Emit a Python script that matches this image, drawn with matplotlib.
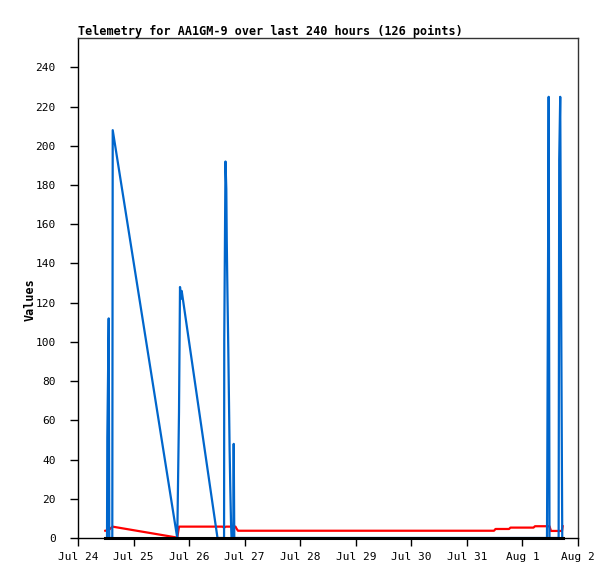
import pandas as pd
import matplotlib
matplotlib.use("Agg")
import matplotlib.pyplot as plt
import matplotlib.dates as mdates

# blue series
blue_times = ["2023-07-24 12:32", "2023-07-24 12:40", "2023-07-24 13:16", "2023-07-24 13:31",
              "2023-07-24 14:49", "2023-07-24 15:00", "2023-07-25 18:53", "2023-07-25 19:38",
              "2023-07-25 20:04", "2023-07-25 20:30", "2023-07-25 20:48", "2023-07-26 12:16",
              "2023-07-26 15:06", "2023-07-26 15:11", "2023-07-26 15:43", "2023-07-26 16:04",
              "2023-07-26 16:16", "2023-07-26 16:35", "2023-07-26 16:55", "2023-07-26 17:14",
              "2023-07-26 17:30", "2023-07-26 17:47", "2023-07-26 18:06", "2023-07-26 18:19",
              "2023-07-26 19:05", "2023-07-26 19:16", "2023-07-26 19:31", "2023-08-01 10:36",
              "2023-08-01 10:43", "2023-08-01 11:20", "2023-08-01 11:41", "2023-08-01 15:38",
              "2023-08-01 15:53", "2023-08-01 16:19", "2023-08-01 16:56", "2023-08-01 17:12"]
blue_values = [0, 51, 112, 0,
               0, 208, 0, 64,
               128, 122, 126, 0,
               0, 101, 192, 178,
               151, 123, 97, 69,
               45, 26, 8, 0,
               0, 48, 0, 0,
               32, 225, 0, 0,
               193, 225, 64, 0]

# red series
red_times = ["2023-07-24 11:47", "2023-07-24 13:24", "2023-07-24 14:54", "2023-07-25 18:53",
             "2023-07-25 19:38", "2023-07-26 14:25", "2023-07-26 15:04", "2023-07-26 15:56",
             "2023-07-26 20:02", "2023-07-26 20:28", "2023-07-26 21:07", "2023-07-31 11:43",
             "2023-07-31 12:22", "2023-07-31 18:12", "2023-07-31 18:50", "2023-08-01 04:46",
             "2023-08-01 05:25", "2023-08-01 11:41", "2023-08-01 12:20", "2023-08-01 17:05",
             "2023-08-01 17:23"]
red_values = [3.7, 4.2, 5.8, 0.2,
              5.8, 5.8, 5.3, 5.8,
              5.8, 4.8, 3.7, 3.7,
              4.6, 4.6, 5.3, 5.3,
              6.0, 6.0, 3.6, 3.6,
              6.0]

# black series (flat at zero)
black_times = ["2023-07-24 11:47", "2023-08-01 17:23"]
black_values = [0, 0]

title = "Telemetry for AA1GM-9 over last 240 hours (126 points)"
x_start = "2023-07-24"
x_end = "2023-08-02"

mono = "DejaVu Sans Mono"

fig = plt.figure(figsize=(6.15, 5.79), dpi=100)
ax = fig.add_axes([78 / 615, 1 - 538 / 579, 500 / 615, 500 / 579])

ax.plot(pd.to_datetime(red_times), red_values, color="#ff0000", lw=1.6, zorder=2)
ax.plot(pd.to_datetime(blue_times), blue_values, color="#0066cc", lw=1.6, zorder=3)
ax.plot(pd.to_datetime(black_times), black_values, color="black", lw=2.2, zorder=4,
        clip_on=False)

ax.set_xlim(pd.Timestamp(x_start), pd.Timestamp(x_end))
ax.set_ylim(0, 255)
ax.set_yticks(range(0, 241, 20))
ax.xaxis.set_major_locator(mdates.DayLocator())
ax.xaxis.set_major_formatter(mdates.DateFormatter("%b %-d"))

for s in ax.spines.values():
    s.set_color("#333333")
    s.set_linewidth(1)
ax.spines["left"].set_color("black")
ax.spines["bottom"].set_color("black")

ax.tick_params(direction="out", length=6, width=1, labelsize=8)
ax.tick_params(axis="y", pad=10)
ax.tick_params(axis="x", pad=4)
for lab in ax.get_xticklabels() + ax.get_yticklabels():
    lab.set_family(mono)

ax.set_ylabel("Values", family=mono, fontsize=8.5, fontweight="bold")
ax.yaxis.set_label_coords(-0.082, 0.476)
ax.set_title(title, family=mono, fontsize=8.5, fontweight="bold", loc="left", pad=2)

fig.savefig("out.png", dpi=100)
